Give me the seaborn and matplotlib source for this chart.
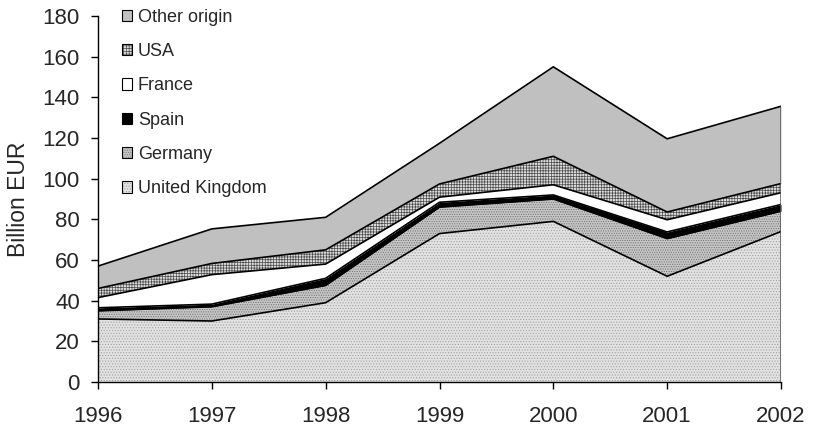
import numpy as np
import pandas as pd
import matplotlib
matplotlib.use('Agg')
import matplotlib.pyplot as plt
import seaborn as sns
from matplotlib.patches import Patch

years = [1996, 1997, 1998, 1999, 2000, 2001, 2002]

uk = [31, 30, 39, 73, 79, 52, 74]
germany = [4, 7, 8.5, 13, 11, 18.5, 10]
spain = [1.5, 1.3, 3.5, 2.4, 2, 3.3, 3.3]
france = [5, 14.5, 7, 2.5, 5, 6, 5.8]
usa = [4.5, 5.5, 7, 6.5, 14, 3.8, 4.5]
other = [11, 17, 16, 20, 44, 36, 38]

series = ['United Kingdom', 'Germany', 'Spain', 'France', 'USA', 'Other origin']

sns.set_style('ticks')
plt.rcParams['font.family'] = ['Liberation Sans', 'DejaVu Sans']
plt.rcParams['hatch.linewidth'] = 0.5

df = pd.DataFrame({'United Kingdom': uk, 'Germany': germany, 'Spain': spain,
                   'France': france, 'USA': usa, 'Other origin': other}, index=years)

# face, hatch, hatch colour
styles = {
    'United Kingdom': ('#e2e2e2', '......', '#a0a0a0'),
    'Germany': ('#c6c6c6', '.......', '#707070'),
    'Spain': ('black', None, 'black'),
    'France': ('white', None, 'white'),
    'USA': ('#dcdcdc', '++++++', '#4a4a4a'),
    'Other origin': ('#c0c0c0', None, '#c0c0c0'),
}

fig = plt.figure(figsize=(8.13, 4.32), dpi=100)
ax = fig.add_axes([98/813, 1-382/432, (781-98)/813, (382-16)/432])

cum = df.cumsum(axis=1)
bottom = np.zeros(len(years))
handles = []
for name in series:
    face, hatch, hc = styles[name]
    top = cum[name].values
    ax.fill_between(years, bottom, top, facecolor=face, hatch=hatch,
                    edgecolor=hc, linewidth=0, zorder=1)
    ax.plot(years, top, color='black', lw=1.2, zorder=3)
    bottom = top
    handles.append((Patch(facecolor=face, hatch=hatch, edgecolor=hc, linewidth=0),
                    Patch(facecolor='none', edgecolor='black', linewidth=0.8)))

ax.vlines(years[-1], 0, cum[series[-1]].values[-1], color='#555555', lw=1.8, zorder=4)

ax.set_xlim(years[0], years[-1])
ax.set_ylim(0, 180)
ax.set_yticks(range(0, 181, 20))
ax.set_xticks(years)
ax.tick_params(axis='both', labelsize=16, direction='out', length=5, width=1,
               color='black', bottom=True, left=True)
ax.tick_params(axis='x', pad=12)
ax.tick_params(axis='y', pad=8)
sns.despine(ax=ax, top=True, right=True)
for s in ['left', 'bottom']:
    ax.spines[s].set_color('black')
    ax.spines[s].set_linewidth(1)
ax.set_ylabel('Billion EUR', fontsize=16.5, labelpad=9)

leg = ax.legend(handles[::-1], series[::-1], loc='upper left',
                bbox_to_anchor=(118/813, (432-5)/432), bbox_transform=fig.transFigure,
                frameon=False, fontsize=13, handlelength=0.6, handleheight=0.6,
                handletextpad=0.3, labelspacing=0.96, borderpad=0.2, borderaxespad=0)

fig.savefig('out.png', dpi=100)
